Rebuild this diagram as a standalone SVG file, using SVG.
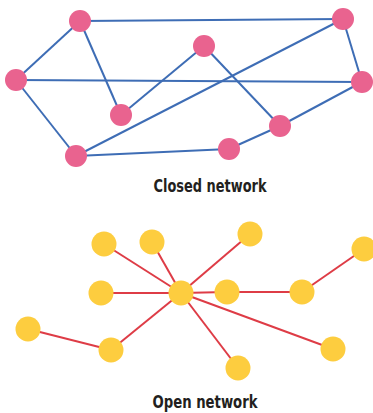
<svg xmlns="http://www.w3.org/2000/svg" width="373" height="413" viewBox="0 0 373 413">
<style>
.bl{stroke:#3E6DB5;stroke-width:2;fill:none}
.rd{stroke:#DE3C46;stroke-width:2;fill:none}
.pk{fill:#E9638F}
.yl{fill:#FDCD3F}
.lbl{font-family:"DejaVu Sans Condensed","DejaVu Sans",sans-serif;font-stretch:condensed;font-weight:bold;font-size:17.5px;fill:#231F20;text-anchor:middle}
</style>
<rect width="373" height="413" fill="#fff"/>
<g id="closed-connectors">
<line class="bl" x1="80" y1="21" x2="343" y2="19"/>
<line class="bl" x1="80" y1="21" x2="16" y2="80"/>
<line class="bl" x1="80" y1="21" x2="121" y2="115"/>
<line class="bl" x1="16" y1="80" x2="362" y2="82"/>
<line class="bl" x1="16" y1="80" x2="76" y2="156"/>
<line class="bl" x1="121" y1="115" x2="204" y2="46"/>
<line class="bl" x1="204" y1="46" x2="280" y2="126"/>
<line class="bl" x1="343" y1="19" x2="362" y2="82"/>
<line class="bl" x1="362" y1="82" x2="280" y2="126"/>
<line class="bl" x1="280" y1="126" x2="229" y2="149"/>
<line class="bl" x1="229" y1="149" x2="76" y2="156"/>
<line class="bl" x1="76" y1="156" x2="343" y2="19"/>
</g>
<g id="c1"><circle class="pk" cx="80" cy="21" r="11"/></g>
<g id="c2"><circle class="pk" cx="343" cy="19" r="11"/></g>
<g id="c3"><circle class="pk" cx="204" cy="46" r="11"/></g>
<g id="c4"><circle class="pk" cx="16" cy="80" r="11"/></g>
<g id="c5"><circle class="pk" cx="362" cy="82" r="11"/></g>
<g id="c6"><circle class="pk" cx="121" cy="115" r="11"/></g>
<g id="c7"><circle class="pk" cx="280" cy="126" r="11"/></g>
<g id="c8"><circle class="pk" cx="229" cy="149" r="11"/></g>
<g id="c9"><circle class="pk" cx="76" cy="156" r="11"/></g>
<text class="lbl" x="210" y="192" textLength="113" lengthAdjust="spacingAndGlyphs">Closed network</text>
<g id="open-connectors">
<line class="rd" x1="181" y1="293" x2="104" y2="244"/>
<line class="rd" x1="181" y1="293" x2="152" y2="242"/>
<line class="rd" x1="181" y1="293" x2="250" y2="234"/>
<line class="rd" x1="181" y1="293" x2="101" y2="293"/>
<line class="rd" x1="181" y1="293" x2="227" y2="292"/>
<line class="rd" x1="227" y1="292" x2="302" y2="292"/>
<line class="rd" x1="302" y1="292" x2="364" y2="249"/>
<line class="rd" x1="181" y1="293" x2="111" y2="350"/>
<line class="rd" x1="111" y1="350" x2="28" y2="329"/>
<line class="rd" x1="181" y1="293" x2="333" y2="349"/>
<line class="rd" x1="181" y1="293" x2="238" y2="368"/>
</g>
<g id="o0"><circle class="yl" cx="181" cy="293" r="12.5"/></g>
<g id="o1"><circle class="yl" cx="104" cy="244" r="12.5"/></g>
<g id="o2"><circle class="yl" cx="152" cy="242" r="12.5"/></g>
<g id="o3"><circle class="yl" cx="250" cy="234" r="12.5"/></g>
<g id="o4"><circle class="yl" cx="364" cy="249" r="12.5"/></g>
<g id="o5"><circle class="yl" cx="101" cy="293" r="12.5"/></g>
<g id="o6"><circle class="yl" cx="227" cy="292" r="12.5"/></g>
<g id="o7"><circle class="yl" cx="302" cy="292" r="12.5"/></g>
<g id="o8"><circle class="yl" cx="28" cy="329" r="12.5"/></g>
<g id="o9"><circle class="yl" cx="111" cy="350" r="12.5"/></g>
<g id="o10"><circle class="yl" cx="333" cy="349" r="12.5"/></g>
<g id="o11"><circle class="yl" cx="238" cy="368" r="12.5"/></g>
<text class="lbl" x="205" y="408" textLength="105" lengthAdjust="spacingAndGlyphs">Open network</text>
</svg>
